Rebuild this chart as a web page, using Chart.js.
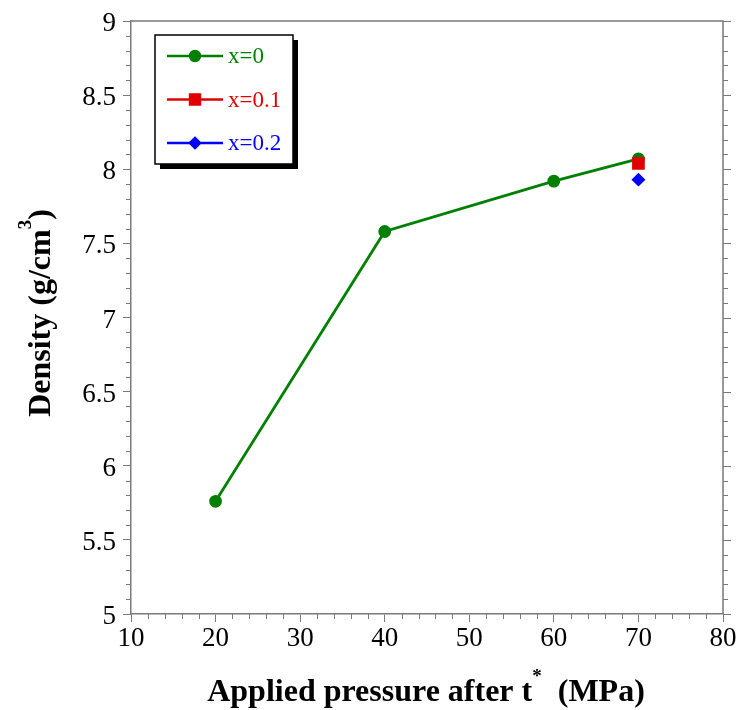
<!DOCTYPE html>
<html>
<head>
<meta charset="utf-8">
<script src="https://cdn.jsdelivr.net/npm/chart.js@4/dist/chart.umd.min.js"></script>
<style>
  html, body { margin: 0; padding: 0; background: #fff; overflow: hidden; }
  #wrap { position: relative; width: 740px; height: 710px; }
  #wrap canvas { position: absolute; left: 0; top: 0; }
  .tick {
    position: absolute;
    font-family: 'Liberation Serif', 'Times New Roman', serif;
    font-size: 27px;
    line-height: 1;
    color: #000;
    white-space: nowrap;
  }
  .tick.x { transform: translate(-50%, -50%); }
  .tick.y { transform: translate(-100%, -50%); }
</style>
</head>
<body>
<div id="wrap"><canvas id="densityChart" width="740" height="710"></canvas></div>
<script>
// density vs. applied pressure, one series per composition
const pressure = [20, 40, 60, 70];
const density_x0 = [5.76, 7.58, 7.92, 8.07];
const pressure_x01 = [70];
const density_x01 = [8.04];
const pressure_x02 = [70];
const density_x02 = [7.93];

const seriesLabels = ['x=0', 'x=0.1', 'x=0.2'];
const seriesColors = ['#008000', '#e00000', '#0000ff'];

const xTicks = [10, 20, 30, 40, 50, 60, 70, 80];
const yTicks = [5, 5.5, 6, 6.5, 7, 7.5, 8, 8.5, 9];

const AXIS = '#7a7a7a';
const SERIF = 'Liberation Serif';

function toPoints(xs, ys) {
    return xs.map((x, i) => ({ x: x, y: ys[i] }));
}

// frame, minor ticks and the right-hand tick marks
const framePlugin = {
    id: 'frame',
    afterDraw(chart) {
        let ctx = chart.ctx;
        let a = chart.chartArea;
        let xs = chart.scales.x, ys = chart.scales.y;
        ctx.save();
        ctx.strokeStyle = AXIS;
        ctx.lineWidth = 1.5;
        ctx.beginPath();
        ctx.moveTo(a.left, a.top);
        ctx.lineTo(a.right, a.top);
        ctx.lineTo(a.right, a.bottom);
        ctx.stroke();

        ctx.lineWidth = 1;
        ctx.beginPath();
        // x minor ticks every 2
        for (let v = xs.min; v <= xs.max + 1e-9; v += 2) {
            if (Math.abs(v % 10) < 1e-9) continue;
            let px = Math.round(xs.getPixelForValue(v)) + 0.5;
            ctx.moveTo(px, a.bottom);
            ctx.lineTo(px, a.bottom + 5);
        }
        // y minor ticks every 0.1, left and right
        for (let v = ys.min; v <= ys.max + 1e-9; v += 0.1) {
            let py = Math.round(ys.getPixelForValue(v)) + 0.5;
            let major = Math.abs(Math.round(v * 10) % 5) === 0;
            if (!major) {
                ctx.moveTo(a.left, py);
                ctx.lineTo(a.left - 5, py);
            }
            ctx.moveTo(a.right, py);
            ctx.lineTo(a.right + (major ? 8 : 5), py);
        }
        ctx.stroke();
        ctx.restore();
    }
};

// tick numbers as text elements over the canvas, placed by the scales
const tickLabelPlugin = {
    id: 'tickLabels',
    afterRender(chart) {
        let wrap = document.getElementById('wrap');
        wrap.querySelectorAll('.tick').forEach(el => el.remove());
        let a = chart.chartArea;
        let xs = chart.scales.x, ys = chart.scales.y;
        xTicks.forEach(v => {
            let el = document.createElement('div');
            el.className = 'tick x';
            el.textContent = String(v);
            el.style.left = xs.getPixelForValue(v) + 'px';
            el.style.top = (a.bottom + 23) + 'px';
            wrap.appendChild(el);
        });
        yTicks.forEach(v => {
            let el = document.createElement('div');
            el.className = 'tick y';
            el.textContent = String(v);
            el.style.left = (a.left - 15) + 'px';
            el.style.top = (ys.getPixelForValue(v) + 1) + 'px';
            wrap.appendChild(el);
        });
    }
};

// axis titles with superscripts
function drawRich(ctx, parts, size) {
    let total = 0;
    parts.forEach(p => {
        ctx.font = 'bold ' + (p.sup ? Math.round(size * 0.6) : size) + 'px ' + SERIF;
        p.w = ctx.measureText(p.t).width;
        total += p.w;
    });
    let x = -total / 2;
    parts.forEach(p => {
        ctx.font = 'bold ' + (p.sup ? Math.round(size * 0.6) : size) + 'px ' + SERIF;
        ctx.fillText(p.t, x, p.sup ? -size * 0.5 : 0);
        x += p.w;
    });
}

const titlePlugin = {
    id: 'titles',
    afterDraw(chart) {
        let ctx = chart.ctx;
        ctx.save();
        ctx.fillStyle = '#000';
        ctx.textBaseline = 'middle';
        ctx.textAlign = 'left';

        ctx.save();
        ctx.translate(426, 693);
        drawRich(ctx, [
            { t: 'Applied pressure after t' },
            { t: '*', sup: true },
            { t: '  (MPa)' }
        ], 32);
        ctx.restore();

        ctx.save();
        ctx.translate(42, 313);
        ctx.rotate(-Math.PI / 2);
        drawRich(ctx, [
            { t: 'Density (g/cm' },
            { t: '3', sup: true },
            { t: ')' }
        ], 32);
        ctx.restore();
        ctx.restore();
    }
};

// boxed legend with a drop shadow
const legendPlugin = {
    id: 'boxLegend',
    afterDraw(chart) {
        let ctx = chart.ctx;
        let left = 155, top = 35, w = 138, h = 129;
        ctx.save();
        ctx.fillStyle = '#000';
        ctx.fillRect(left + 5, top + 5, w, h);
        ctx.fillStyle = '#fff';
        ctx.fillRect(left, top, w, h);
        ctx.strokeStyle = '#000';
        ctx.lineWidth = 1.5;
        ctx.strokeRect(left, top, w, h);

        chart.data.datasets.forEach((ds, i) => {
            let y = 56 + i * 43.5;
            ctx.strokeStyle = ds.borderColor;
            ctx.lineWidth = 2.5;
            ctx.beginPath();
            ctx.moveTo(167, y);
            ctx.lineTo(223, y);
            ctx.stroke();
            ctx.fillStyle = ds.backgroundColor;
            ctx.strokeStyle = ds.borderColor;
            Chart.helpers.drawPoint(ctx, {
                pointStyle: ds.pointStyle,
                radius: ds.legendRadius,
                rotation: 0,
                borderWidth: 1
            }, 195, y);
            ctx.fillStyle = ds.borderColor;
            ctx.font = '23px ' + SERIF;
            ctx.textBaseline = 'middle';
            ctx.textAlign = 'left';
            ctx.fillText(ds.label, 228, y + 1);
        });
        ctx.restore();
    }
};

// drop the label overhang so the plot frame sits where the layout padding puts it
function noOverhang(s) {
    s.paddingTop = 0;
    s.paddingBottom = 0;
    s.paddingLeft = 0;
    s.paddingRight = 0;
}

const ctx = document.getElementById('densityChart').getContext('2d');

const chart = new Chart(ctx, {
    type: 'scatter',
    data: {
        datasets: [{
            label: seriesLabels[0],
            data: toPoints(pressure, density_x0),
            showLine: true,
            borderColor: seriesColors[0],
            backgroundColor: seriesColors[0],
            borderWidth: 2.8,
            pointStyle: 'circle',
            pointRadius: 5,
            legendRadius: 5,
            order: 3
        }, {
            label: seriesLabels[1],
            data: toPoints(pressure_x01, density_x01),
            showLine: true,
            borderColor: seriesColors[1],
            backgroundColor: seriesColors[1],
            borderWidth: 2.8,
            pointStyle: 'rect',
            pointRadius: 7,
            legendRadius: 7,
            order: 2
        }, {
            label: seriesLabels[2],
            data: toPoints(pressure_x02, density_x02),
            showLine: true,
            borderColor: seriesColors[2],
            backgroundColor: seriesColors[2],
            borderWidth: 2.8,
            pointStyle: 'rectRot',
            pointRadius: 5,
            legendRadius: 5,
            order: 1
        }]
    },
    options: {
        responsive: false,
        animation: false,
        layout: { padding: { left: 0, right: 17, top: 21, bottom: 0 } },
        plugins: { legend: { display: false }, tooltip: { enabled: false } },
        scales: {
            x: {
                type: 'linear',
                min: 10,
                max: 80,
                afterBuildTicks: s => { s.ticks = xTicks.map(v => ({ value: v })); },
                afterFit: s => { s.height = 96; noOverhang(s); },
                ticks: { color: 'rgba(0,0,0,0)', font: { size: 27 }, padding: 0, maxRotation: 0, autoSkip: false },
                grid: { drawOnChartArea: false, drawTicks: true, tickLength: 8, color: AXIS },
                border: { display: true, color: AXIS, width: 1.5 }
            },
            y: {
                type: 'linear',
                min: 5,
                max: 9,
                afterBuildTicks: s => { s.ticks = yTicks.map(v => ({ value: v })); },
                afterFit: s => { s.width = 131; noOverhang(s); },
                ticks: { color: 'rgba(0,0,0,0)', font: { size: 27 }, padding: 8, autoSkip: false },
                grid: { drawOnChartArea: false, drawTicks: true, tickLength: 8, color: AXIS },
                border: { display: true, color: AXIS, width: 1.5 }
            }
        }
    },
    plugins: [framePlugin, tickLabelPlugin, titlePlugin, legendPlugin]
});
</script>
</body>
</html>
